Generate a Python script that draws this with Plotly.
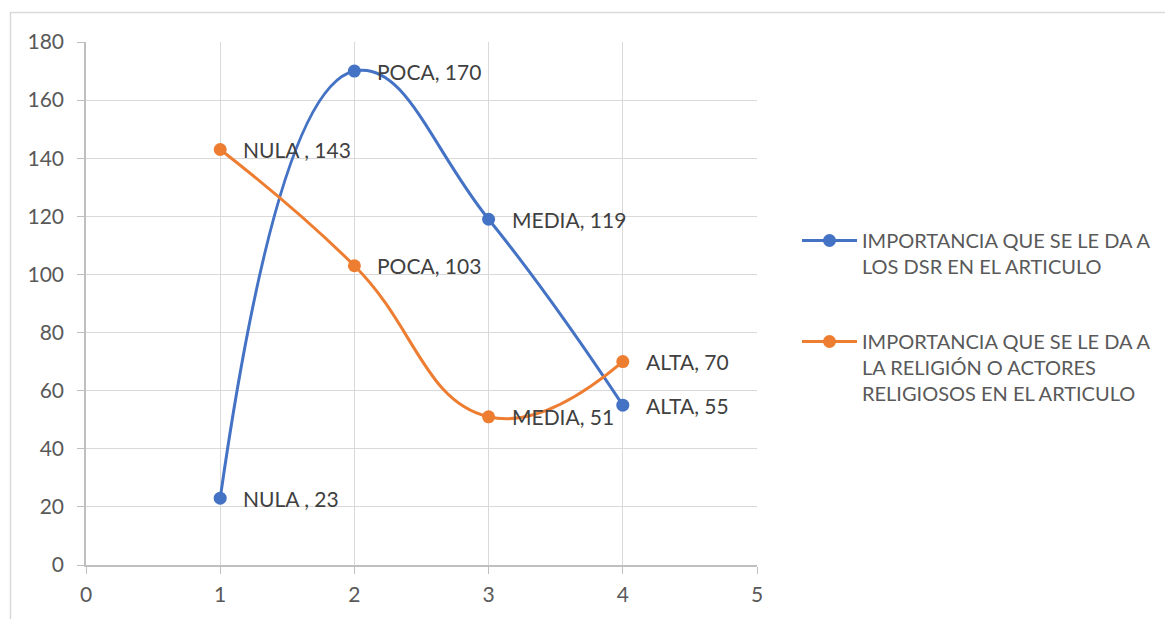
import plotly.graph_objects as go

x_vals = [1, 2, 3, 4]
dsr_values = [23, 170, 119, 55]
dsr_labels = ["NULA , 23", "POCA, 170", "MEDIA, 119", "ALTA, 55"]
rel_values = [143, 103, 51, 70]
rel_labels = ["NULA , 143", "POCA, 103", "MEDIA, 51", "ALTA, 70"]
y_ticks = [0, 20, 40, 60, 80, 100, 120, 140, 160, 180]
x_ticks = [0, 1, 2, 3, 4, 5]

BLUE = "#4472C4"
ORANGE = "#ED7D31"
TXT = "#595959"
LBL = "#404040"
FONT = "Lato"
FS = 21

# page is drawn with an 8px body offset
OFF = 8
W, H = 1173 - OFF, 619 - OFF
L, R, T, B = 86 - OFF, 757 - OFF, 42 - OFF, 565 - OFF


def px(xp):
    return (xp - OFF - L) / (R - L)


def py(yp):
    return (B - (yp - OFF)) / (B - T)


fig = go.Figure()
series = [
    ("IMPORTANCIA QUE SE LE DA A<br>LOS DSR EN EL ARTICULO", dsr_values, dsr_labels, BLUE, "a"),
    ("IMPORTANCIA QUE SE LE DA A<br>LA RELIGIÓN O ACTORES<br>RELIGIOSOS EN EL ARTICULO", rel_values, rel_labels, ORANGE, "b"),
]
for name, vals, labels, col, grp in series:
    fig.add_trace(go.Scatter(
        x=x_vals, y=vals, mode="lines+markers", name=name,
        line=dict(color=col, width=3, shape="spline", smoothing=1.3),
        marker=dict(color=col, size=13),
        legendgroup=grp, cliponaxis=False,
    ))
    for xv, yv, lab in zip(x_vals, vals, labels):
        fig.add_annotation(x=xv, y=yv, text=lab, showarrow=False,
                           xanchor="left", yanchor="middle", xshift=21,
                           font=dict(color=LBL, size=FS, family=FONT))

fig.add_shape(type="line", xref="paper", yref="paper",
              x0=px(10), x1=px(1180), y0=py(12.5), y1=py(12.5),
              line=dict(color="#D9D9D9", width=1.5))
fig.add_shape(type="line", xref="paper", yref="paper",
              x0=px(10.5), x1=px(10.5), y0=py(12), y1=py(640),
              line=dict(color="#D9D9D9", width=1.5))

axis_common = dict(showgrid=True, gridcolor="#D9D9D9", gridwidth=1,
                   zeroline=False, showline=True, linecolor="#BFBFBF",
                   linewidth=1.5, ticks="outside", ticklen=7,
                   tickcolor="#BFBFBF",
                   tickfont=dict(size=FS, color=TXT, family=FONT))

fig.update_layout(
    width=W, height=H,
    margin=dict(l=L, r=W - R, t=T, b=H - B, autoexpand=False),
    paper_bgcolor="white", plot_bgcolor="white",
    font=dict(family=FONT, color=TXT, size=FS),
    showlegend=True,
    legend=dict(x=px(797), y=py(221), xanchor="left", yanchor="top",
                font=dict(size=20, color=TXT, family=FONT),
                traceorder="grouped", tracegroupgap=46,
                itemwidth=55, valign="top",
                bgcolor="rgba(0,0,0,0)"),
    xaxis=dict(range=[0, 5], tickvals=x_ticks, ticklabelstandoff=3,
               **axis_common),
    yaxis=dict(range=[0, 180], tickvals=y_ticks, ticklabelstandoff=9,
               **axis_common),
)

fig.write_html("out.html")
